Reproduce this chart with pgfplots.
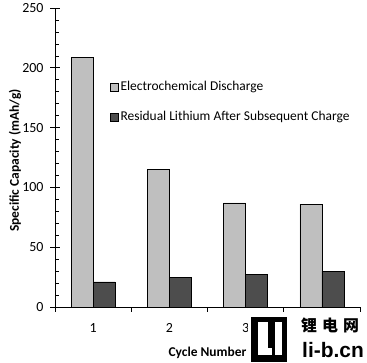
\documentclass[border=0pt]{standalone}
\usepackage{pgfplots}
\pgfplotsset{compat=1.18}
\usepackage{fontspec}
\setmainfont{Carlito}
\newfontfamily\cjk{Noto Sans CJK SC}
\newfontfamily\wmfont{Liberation Sans}
\definecolor{lightbar}{HTML}{BFBFBF}
\definecolor{darkbar}{HTML}{4D4D4D}
\begin{document}
\begin{tikzpicture}
\useasboundingbox (0,0) rectangle (367bp,363bp);
\begin{axis}[
  at={(55bp,56bp)}, anchor=south west,
  scale only axis, width=305bp, height=299bp,
  xmin=0.5, xmax=4.5, ymin=0, ymax=250,
  axis x line*=bottom, axis y line*=left,
  ybar=0pt, bar width=22bp,
  xtick={1,2,3,4}, xticklabels={1,2,3,{}},
  minor xtick={0.5,1.5,2.5,3.5,4.5},
  ytick={0,50,...,250}, minor y tick num=4,
  tick align=center, major tick length=10bp, minor tick length=4bp,
  major x tick style={draw=none},
  minor x tick style={yshift=-2.5bp},
  minor y tick style={xshift=2bp},
  tick style={black, line width=0.6pt},
  axis line style={black, line width=0.6pt},
  /pgf/number format/assume math mode=true,
  tick label style={font=\fontsize{14}{16}\selectfont},
  yticklabel style={xshift=-3bp},
  xticklabel style={yshift=-8bp},
  ylabel={\bfseries Specific Capacity (mAh/g)},
  xlabel={\bfseries Cycle Number},
  label style={font=\fontsize{13.5}{15}\selectfont},
  y label style={at={(axis description cs:-0.131,0.49)}, anchor=center},
  x label style={at={(axis description cs:0.5,-0.152)}, anchor=center},
  legend style={draw=none, fill=none, at={(0.17,0.768)}, anchor=north west,
    font=\fontsize{13.5}{16}\selectfont, row sep=15bp},
  legend cell align=left,
  legend image code/.code={\draw[#1, draw=black, line width=0.5pt] (0bp,-4bp) rectangle (8bp,4bp);},
]
\addplot[fill=lightbar, draw=black, line width=0.5pt] coordinates {(1,209) (2,115) (3,87) (4,86)};
\addplot[fill=darkbar, draw=black, line width=0.5pt] coordinates {(1,21) (2,24.5) (3,27.5) (4,30)};
\legend{Electrochemical Discharge, Residual Lithium After Subsequent Charge}
\end{axis}
% watermark
\fill[white] (248bp,0bp) rectangle (367bp,51bp);
\fill[black] (251bp,1bp) rectangle (287bp,46bp);
\fill[white] (258bp,8bp) rectangle (268bp,41bp);
\fill[white] (258bp,8bp) rectangle (272bp,15bp);
\fill[white] (275bp,8bp) rectangle (282bp,41bp);
\node[anchor=west, inner sep=0pt] at (301bp,38bp) {\cjk\bfseries\fontsize{16}{16}\selectfont 锂\hspace{5bp}电\hspace{5bp}网};
\node[anchor=west, inner sep=0pt] at (302bp,13bp) {\wmfont\bfseries\fontsize{21}{21}\selectfont li-b.cn};
\end{tikzpicture}
\end{document}
